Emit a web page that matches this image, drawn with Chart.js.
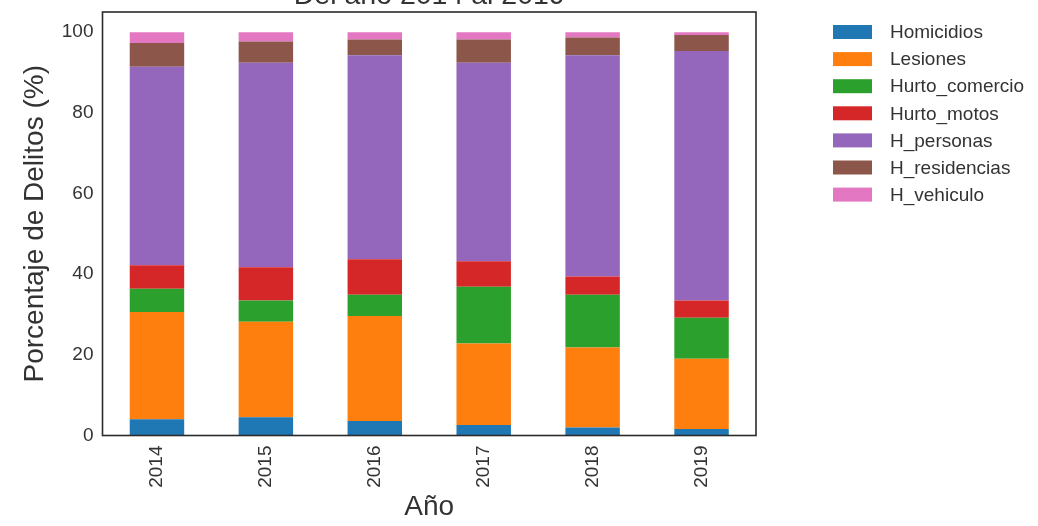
<!DOCTYPE html>
<html>
<head>
<meta charset="utf-8">
<script src="https://cdn.jsdelivr.net/npm/chart.js@4"></script>
<style>
  html, body { margin: 0; padding: 0; background: #ffffff; }
  #wrap { width: 1038px; height: 526px; }
</style>
</head>
<body>
<div id="wrap"><canvas id="c" width="1038" height="526"></canvas></div>
<script>
// ---- Data ----
const years = ["2014", "2015", "2016", "2017", "2018", "2019"];
const seriesNames = ["Homicidios", "Lesiones", "Hurto_comercio", "Hurto_motos", "H_personas", "H_residencias", "H_vehiculo"];
const homicidios    = [4.0, 4.5, 3.6, 2.6, 2.0, 1.6];
const lesiones      = [26.6, 23.7, 26.0, 20.2, 19.8, 17.4];
const hurtoComercio = [5.8, 5.3, 5.3, 14.1, 13.1, 10.2];
const hurtoMotos    = [5.8, 8.2, 8.8, 6.3, 4.5, 4.3];
const hPersonas     = [49.2, 50.7, 50.6, 49.2, 54.9, 61.8];
const hResidencias  = [5.9, 5.3, 3.9, 5.8, 4.4, 4.0];
const hVehiculo     = [2.7, 2.3, 1.8, 1.8, 1.3, 0.7];
const yTicks = [0, 20, 40, 60, 80, 100];
const titleText = "Del año 2014 al 2019";
const xTitle = "Año";
const yTitle = "Porcentaje de Delitos (%)";

const seriesValues = [homicidios, lesiones, hurtoComercio, hurtoMotos, hPersonas, hResidencias, hVehiculo];
const colors = ["#1f77b4", "#ff7f0e", "#2ca02c", "#d62728", "#9467bd", "#8c564b", "#e377c2"];

const FONT = "'Liberation Sans', Arial, sans-serif";
const TEXT = "#333333";
Chart.defaults.font.family = FONT;
Chart.defaults.color = TEXT;

const framePlugin = {
  id: 'frame',
  afterDatasetsDraw(chart) {
    const {ctx, chartArea: a} = chart;
    ctx.save();
    ctx.strokeStyle = "#2b2b2b";
    ctx.lineWidth = 1.6;
    ctx.strokeRect(a.left, a.top, a.right - a.left, a.bottom - a.top);
    ctx.restore();
  }
};

const titlePlugin = {
  id: 'cutTitle',
  afterDraw(chart) {
    const {ctx, chartArea: a} = chart;
    ctx.save();
    ctx.font = "28.5px " + FONT;
    ctx.fillStyle = TEXT;
    ctx.textAlign = "center";
    ctx.textBaseline = "alphabetic";
    ctx.fillText(titleText, (a.left + a.right) / 2, 3.5);
    ctx.restore();
  }
};

const legendPlugin = {
  id: 'sideLegend',
  afterDraw(chart) {
    const {ctx} = chart;
    ctx.save();
    ctx.font = "19px " + FONT;
    ctx.textAlign = "left";
    ctx.textBaseline = "middle";
    chart.data.datasets.forEach((ds, i) => {
      const cy = 32 + i * 27.1;
      ctx.fillStyle = ds.backgroundColor;
      ctx.fillRect(833, cy - 7, 39, 14);
      ctx.fillStyle = TEXT;
      ctx.fillText(ds.label, 890, cy + 1);
    });
    ctx.restore();
  }
};

new Chart(document.getElementById('c'), {
  type: 'bar',
  data: {
    labels: years,
    datasets: seriesNames.map((name, i) => ({
      label: name,
      data: seriesValues[i],
      backgroundColor: colors[i],
      borderWidth: 0,
      categoryPercentage: 1.0,
      barPercentage: 0.5
    }))
  },
  options: {
    responsive: false,
    animation: false,
    layout: { padding: { top: 12, right: 282, left: 0, bottom: 0 } },
    plugins: {
      legend: { display: false },
      title: { display: false },
      tooltip: { enabled: false }
    },
    scales: {
      x: {
        stacked: true,
        grid: { display: false, drawTicks: false },
        border: { display: false },
        ticks: { font: { size: 19 }, color: TEXT, minRotation: 90, maxRotation: 90, padding: 10 },
        title: { display: true, text: xTitle, font: { size: 28 }, color: TEXT, padding: { top: 0, bottom: 2 } },
        afterFit(scale) {
          scale.height = 90.5;
          scale.paddingLeft = 0; scale.paddingRight = 0;
        }
      },
      y: {
        stacked: true,
        min: 0,
        max: 105,
        grid: { display: false, drawTicks: false },
        border: { display: false },
        afterBuildTicks(scale) { scale.ticks = yTicks.map(v => ({ value: v })); },
        ticks: { font: { size: 19 }, color: TEXT, padding: 9 },
        title: { display: true, text: yTitle, font: { size: 28 }, color: TEXT, padding: { top: 18, bottom: 0 } },
        afterFit(scale) {
          scale.width = 102.5;
          scale.paddingTop = 0; scale.paddingBottom = 0;
        }
      }
    }
  },
  plugins: [framePlugin, titlePlugin, legendPlugin]
});
</script>
</body>
</html>
